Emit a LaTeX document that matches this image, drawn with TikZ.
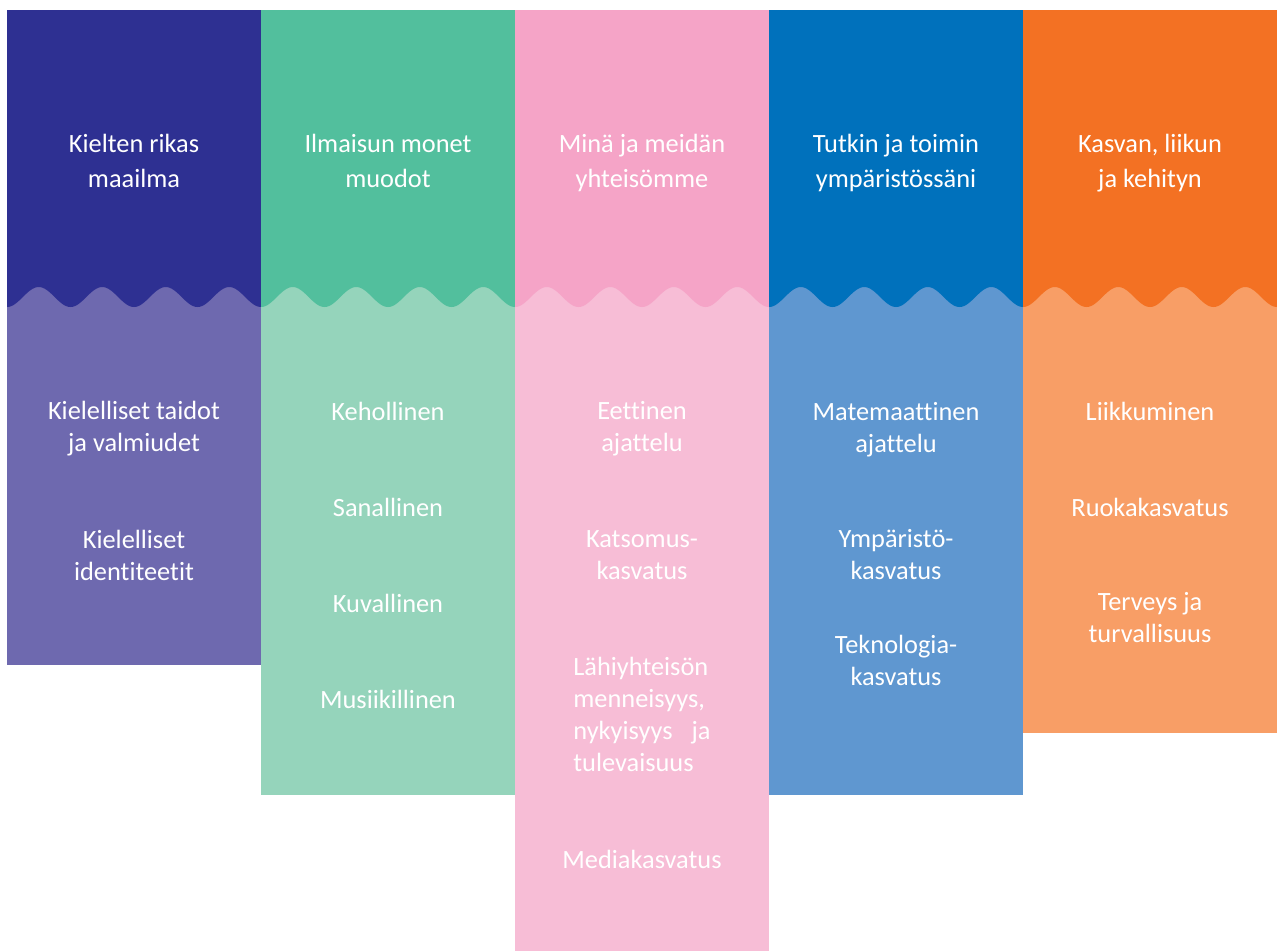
\documentclass[tikz,border=0pt]{standalone}
\usepackage{fontspec}
\setmainfont{Carlito}[Ligatures=NoCommon]
\definecolor{kieliT}{HTML}{2E3092}
\definecolor{kieliB}{HTML}{6E69AF}
\definecolor{ilmaT}{HTML}{52BF9D}
\definecolor{ilmaB}{HTML}{95D4BB}
\definecolor{minaT}{HTML}{F5A4C7}
\definecolor{minaB}{HTML}{F7BDD6}
\definecolor{tutkT}{HTML}{0071BC}
\definecolor{tutkB}{HTML}{5F97D0}
\definecolor{kasvT}{HTML}{F37123}
\definecolor{kasvB}{HTML}{F89E66}
\begin{document}
\begin{tikzpicture}
  [x=0.02cm,y=-0.02cm,every node/.style={text=white,align=center,inner sep=0pt}]
  \tikzstyle{head} = [font=\fontsize{15}{19.9}\selectfont]
  \tikzstyle{item} = [font=\fontsize{15}{18.2}\selectfont]
  \useasboundingbox (0,0) rectangle (1277,951);
  % columns: left edge / colours / bottom
  \foreach \l /\top /\bot /\h in {7/kieliT/kieliB/665,261/ilmaT/ilmaB/795,515/minaT/minaB/951,769/tutkT/tutkB/795,1023/kasvT/kasvB/733}
  {
   \fill[\bot] (\l,287) rectangle ({\l+254},\h);
   \fill[\top] (\l,10) -- plot[domain=0:254,samples=121] ({\l+\x},{297+10*cos(5.6693*\x)}) -- ({\l+254},10) -- cycle;
  }
  % headings
  \node[head] (h1) at (134,161)  {Kielten rikas\\maailma};
  \node[head] (h2) at (388,161)  {Ilmaisun monet\\muodot};
  \node[head] (h3) at (642,163)  {Minä ja meidän\\yhteisömme};
  \node[head] (h4) at (896,163)  {Tutkin ja toimin\\ympäristössäni};
  \node[head] (h5) at (1150,163) {Kasvan, liikun\\ja kehityn};
  % column 1
  \node[item] (k1) at (134,428.5) {Kielelliset taidot\\ja valmiudet};
  \node[item] (k2) at (134,555) {Kielelliset\\identiteetit};
  % column 2
  \node[item] (i1) at (388,411) {Kehollinen};
  \node[item] (i2) at (388,507) {Sanallinen};
  \node[item] (i3) at (388,603) {Kuvallinen};
  \node[item] (i4) at (388,699) {Musiikillinen};
  % column 3
  \node[item] (m1) at (642,429) {Eettinen\\ajattelu};
  \node[item] (m2) at (642,555) {Katsomus-\\kasvatus};
  \node[item,align=left] (m3) at (642,714) {Lähiyhteisön\\menneisyys,\\nykyisyys\hspace{0.5em} ja\\tulevaisuus};
  \node[item] (m4) at (642,859) {Mediakasvatus};
  % column 4
  \node[item] (t1) at (896,430) {Matemaattinen\\ajattelu};
  \node[item] (t2) at (896,555) {Ympäristö-\\kasvatus};
  \node[item] (t3) at (896,660) {Teknologia-\\kasvatus};
  % column 5
  \node[item] (v1) at (1150,411) {Liikkuminen};
  \node[item] (v2) at (1150,507) {Ruokakasvatus};
  \node[item] (v3) at (1150,618) {Terveys ja\\turvallisuus};
\end{tikzpicture}
\end{document}
